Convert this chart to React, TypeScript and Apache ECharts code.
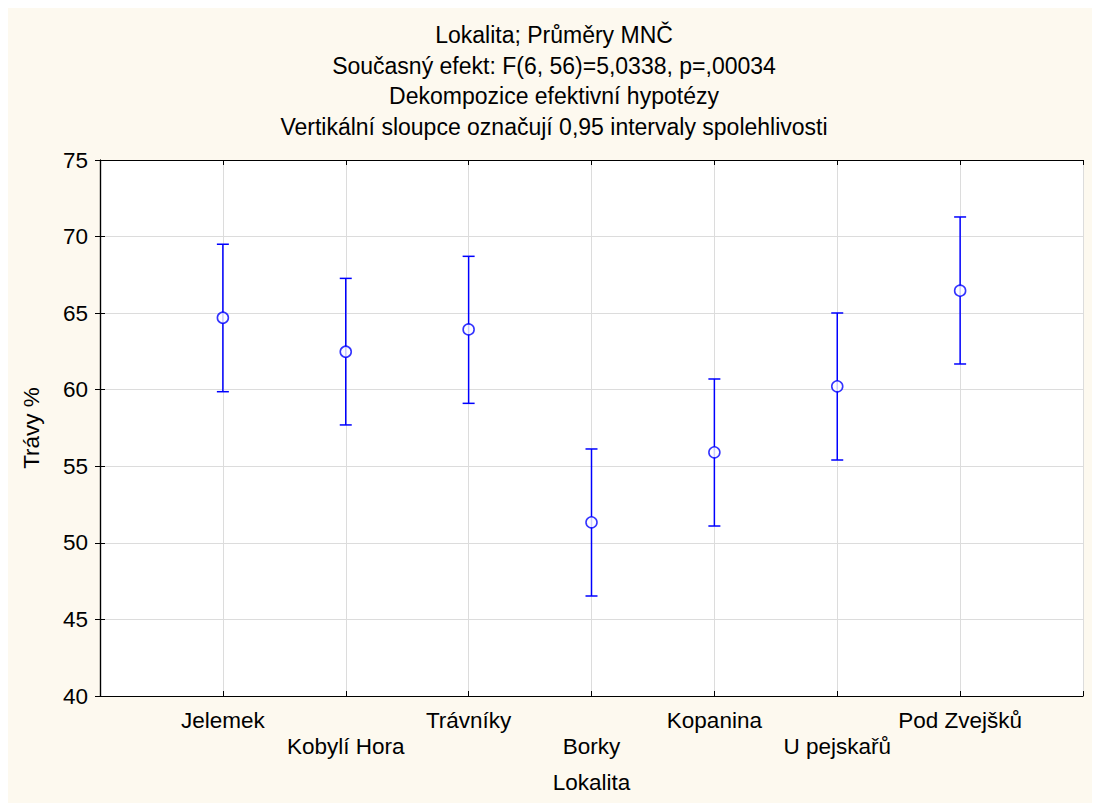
import React, { useEffect, useRef } from "react";
import * as echarts from "echarts";

// Locations along the x axis
const categories = [
  "Jelemek",
  "Kobylí Hora",
  "Trávníky",
  "Borky",
  "Kopanina",
  "U pejskařů",
  "Pod Zvejšků",
];
// Least-squares means of grass cover (%)
const means = [64.7, 62.48, 63.94, 51.34, 55.91, 60.22, 66.47];
// 95% confidence limits
const lower = [59.87, 57.7, 59.11, 46.53, 51.1, 55.41, 61.68];
const upper = [69.5, 67.27, 68.71, 56.13, 60.7, 65.01, 71.28];
const yTicks = [40, 45, 50, 55, 60, 65, 70, 75];

const titleLines = [
  "Lokalita; Průměry MNČ",
  "Současný efekt: F(6, 56)=5,0338, p=,00034",
  "Dekompozice efektivní hypotézy",
  "Vertikální sloupce označují 0,95 intervaly spolehlivosti",
];

const FONT = "'Liberation Sans', Arial, sans-serif";
const BLUE = "#0000ff";
const FS = 22.5;

export default function App() {
  const ref = useRef<HTMLDivElement>(null);

  useEffect(() => {
    if (!ref.current) return;
    const chart = echarts.init(ref.current, undefined, { renderer: "svg" });

    const errData = categories.map((_, i) => [i + 1, lower[i], upper[i]]);
    const meanData = categories.map((_, i) => [i + 1, means[i]]);

    const xBase = {
      type: "value" as const,
      min: 0,
      max: categories.length + 1,
      interval: 1,
      axisLine: { show: true, lineStyle: { color: "#000", width: 1.2 } },
      axisTick: { show: true, inside: true, length: 5, lineStyle: { color: "#000" } },
    };
    const yBase = {
      type: "value" as const,
      min: yTicks[0],
      max: yTicks[yTicks.length - 1],
      interval: 5,
      axisLine: { show: true, lineStyle: { color: "#000", width: 1.2 } },
      axisTick: { show: true, inside: true, length: 5, lineStyle: { color: "#000" } },
    };

    chart.setOption({
      animation: false,
      backgroundColor: "#fdf9ef",
      textStyle: { fontFamily: FONT },
      title: {
        text: titleLines.join("\n"),
        left: "center",
        top: 7,
        textStyle: {
          fontFamily: FONT,
          fontSize: 23,
          fontWeight: "normal",
          color: "#000",
          lineHeight: 30.5,
        },
      },
      grid: { left: 92, right: 17, top: 152, bottom: 107, backgroundColor: "#fff", show: true, borderWidth: 0 },
      xAxis: [
        {
          ...xBase,
          position: "bottom",
          name: "Lokalita",
          nameLocation: "middle",
          nameGap: 75,
          nameTextStyle: { fontFamily: FONT, fontSize: FS, color: "#000" },
          splitLine: { show: true, lineStyle: { color: "#dcdcdc", width: 1 } },
          axisLabel: {
            fontFamily: FONT,
            fontSize: FS,
            color: "#000",
            margin: 11,
            lineHeight: 26,
            formatter: (v: number) => {
              const i = Math.round(v) - 1;
              if (i < 0 || i >= categories.length) return "";
              return i % 2 === 1 ? "\n" + categories[i] : categories[i];
            },
          },
        },
        {
          ...xBase,
          position: "top",
          splitLine: { show: false },
          axisLabel: { show: false },
        },
      ],
      yAxis: [
        {
          ...yBase,
          position: "left",
          name: "Trávy %",
          nameLocation: "middle",
          nameGap: 57,
          nameTextStyle: { fontFamily: FONT, fontSize: FS, color: "#000" },
          splitLine: { show: true, lineStyle: { color: "#dcdcdc", width: 1 } },
          axisLabel: { fontFamily: FONT, fontSize: FS, color: "#000", margin: 12 },
        },
        {
          ...yBase,
          position: "right",
          splitLine: { show: false },
          axisLabel: { show: false },
        },
      ],
      series: [
        {
          type: "custom",
          xAxisIndex: 0,
          yAxisIndex: 0,
          data: errData,
          encode: { x: 0, y: [1, 2] },
          renderItem: (_params: any, api: any) => {
            const x = api.value(0);
            const lo = api.coord([x, api.value(1)]);
            const hi = api.coord([x, api.value(2)]);
            const cap = 6;
            const style = { stroke: BLUE, lineWidth: 1.5 };
            return {
              type: "group",
              children: [
                { type: "line", shape: { x1: lo[0], y1: lo[1], x2: hi[0], y2: hi[1] }, style },
                { type: "line", shape: { x1: hi[0] - cap, y1: hi[1], x2: hi[0] + cap, y2: hi[1] }, style },
                { type: "line", shape: { x1: lo[0] - cap, y1: lo[1], x2: lo[0] + cap, y2: lo[1] }, style },
              ],
            };
          },
          z: 2,
        },
        {
          type: "scatter",
          xAxisIndex: 0,
          yAxisIndex: 0,
          data: meanData,
          symbol: "circle",
          symbolSize: 11,
          itemStyle: { color: "#fff", borderColor: BLUE, borderWidth: 1.6 },
          z: 3,
        },
      ],
    });

    return () => chart.dispose();
  }, []);

  return <div ref={ref} style={{ width: 1092, height: 795 }} />;
}
